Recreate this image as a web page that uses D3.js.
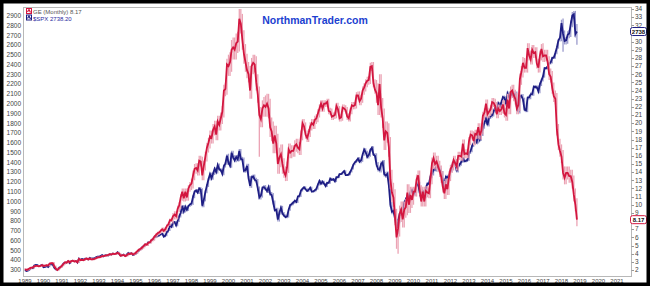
<!DOCTYPE html>
<html>
<head>
<meta charset="utf-8">
<script src="https://cdn.jsdelivr.net/npm/d3@7/dist/d3.min.js"></script>
<style>
  body { margin: 0; background: #fff; }
  text { font-family: "Liberation Sans", Arial, sans-serif; }
</style>
</head>
<body>
<div id="chart"></div>
<script>
// monthly closes, Jan 1989 .. Nov 2018
var spxClose = [
  297, 289, 295, 310, 321, 318, 346, 351, 349, 340, 346, 353,        // 1989
  329, 332, 340, 331, 361, 358, 356, 323, 306, 304, 322, 330,        // 1990
  344, 367, 375, 375, 390, 371, 388, 395, 388, 392, 375, 417,        // 1991
  409, 413, 404, 415, 415, 408, 424, 414, 418, 419, 431, 436,        // 1992
  439, 443, 452, 440, 450, 451, 448, 464, 459, 468, 462, 466,        // 1993
  482, 467, 446, 451, 457, 444, 458, 475, 463, 472, 454, 459,        // 1994
  470, 487, 501, 515, 533, 545, 562, 562, 584, 582, 605, 616,        // 1995
  636, 640, 646, 654, 669, 671, 640, 652, 687, 705, 757, 741,        // 1996
  786, 791, 757, 801, 848, 885, 954, 899, 947, 915, 955, 970,        // 1997
  980, 1049, 1102, 1112, 1091, 1134, 1121, 957, 1017, 1099, 1164, 1229,  // 1998
  1280, 1238, 1286, 1335, 1302, 1373, 1329, 1320, 1283, 1363, 1389, 1469, // 1999
  1394, 1366, 1499, 1452, 1421, 1455, 1431, 1518, 1437, 1429, 1315, 1320, // 2000
  1366, 1240, 1160, 1249, 1256, 1224, 1211, 1134, 1041, 1060, 1139, 1148, // 2001
  1130, 1107, 1147, 1077, 1067, 990, 912, 916, 815, 886, 936, 880,        // 2002
  856, 841, 848, 917, 964, 975, 990, 1008, 996, 1051, 1058, 1112,         // 2003
  1131, 1145, 1126, 1107, 1121, 1141, 1102, 1104, 1115, 1130, 1174, 1212, // 2004
  1181, 1204, 1181, 1157, 1192, 1191, 1234, 1220, 1229, 1207, 1249, 1248, // 2005
  1280, 1281, 1295, 1311, 1270, 1270, 1277, 1304, 1336, 1378, 1401, 1418, // 2006
  1438, 1407, 1421, 1482, 1531, 1503, 1455, 1474, 1527, 1549, 1481, 1468, // 2007
  1379, 1331, 1323, 1386, 1400, 1280, 1267, 1283, 1166, 969, 896, 903,    // 2008
  826, 735, 798, 873, 919, 919, 987, 1021, 1057, 1036, 1096, 1115,        // 2009
  1074, 1104, 1169, 1187, 1089, 1031, 1102, 1049, 1141, 1183, 1181, 1258, // 2010
  1286, 1327, 1326, 1364, 1345, 1321, 1292, 1219, 1131, 1253, 1247, 1258, // 2011
  1312, 1366, 1408, 1398, 1310, 1362, 1379, 1407, 1441, 1412, 1416, 1426, // 2012
  1498, 1515, 1569, 1598, 1631, 1606, 1686, 1633, 1682, 1757, 1806, 1848, // 2013
  1783, 1859, 1872, 1884, 1924, 1960, 1931, 2003, 1972, 2018, 2068, 2059, // 2014
  1995, 2105, 2068, 2086, 2107, 2063, 2104, 1972, 1920, 2079, 2080, 2044, // 2015
  1940, 1932, 2060, 2065, 2097, 2099, 2174, 2171, 2168, 2126, 2199, 2239, // 2016
  2279, 2364, 2363, 2384, 2412, 2423, 2470, 2472, 2519, 2575, 2648, 2674, // 2017
  2824, 2714, 2641, 2648, 2705, 2718, 2816, 2902, 2914, 2712, 2738.2      // 2018
]

var geClose = [
  2.1, 2.0, 2.1, 2.2, 2.3, 2.3, 2.45, 2.5, 2.5, 2.45, 2.5, 2.6,       // 1989
  2.5, 2.55, 2.6, 2.55, 2.8, 2.85, 2.85, 2.45, 2.15, 2.0, 2.2, 2.35,  // 1990
  2.55, 2.75, 2.95, 2.9, 3.1, 2.95, 3.1, 3.15, 3.05, 3.1, 2.95, 3.35, // 1991
  3.2, 3.25, 3.2, 3.35, 3.4, 3.3, 3.4, 3.3, 3.3, 3.35, 3.45, 3.55,    // 1992
  3.55, 3.6, 3.7, 3.7, 3.75, 3.8, 3.85, 3.95, 3.9, 4.0, 3.95, 4.0,    // 1993
  4.1, 4.0, 3.75, 3.8, 3.85, 3.7, 3.8, 4.0, 3.95, 4.05, 3.9, 4.0,     // 1994
  4.15, 4.35, 4.5, 4.6, 4.75, 4.95, 5.15, 5.1, 5.35, 5.4, 5.65, 5.8,  // 1995
  6.1, 6.3, 6.5, 6.6, 6.8, 7.0, 6.8, 7.0, 7.4, 7.6, 8.1, 8.1,         // 1996
  8.6, 8.8, 8.6, 9.5, 9.9, 10.9, 11.6, 10.8, 11.6, 10.9, 12.0, 12.4,  // 1997
  12.6, 13.6, 14.4, 14.5, 14.2, 15.4, 15.3, 13.6, 14.8, 15.9, 17.0, 17.6, // 1998
  18.4, 18.2, 19.2, 19.6, 18.6, 20.2, 19.8, 20.6, 21.4, 24.0, 24.2, 27.2, // 1999
  27.0, 27.5, 29.0, 29.3, 29.0, 29.8, 30.0, 32.8, 32.2, 30.2, 28.5, 27.5, // 2000
  26.5, 26.0, 24.0, 27.0, 27.4, 27.2, 25.0, 23.5, 21.0, 20.5, 21.8, 22.2, // 2001
  22.0, 22.4, 21.8, 19.5, 19.0, 17.5, 18.5, 17.5, 15.0, 15.8, 16.2, 15.0, // 2002
  14.0, 13.6, 14.6, 16.8, 16.4, 16.6, 16.6, 17.2, 17.4, 17.0, 16.8, 18.4, // 2003
  20.0, 19.6, 18.6, 18.2, 18.8, 19.6, 20.0, 19.8, 20.4, 20.6, 21.2, 21.8, // 2004
  22.4, 21.8, 22.4, 22.4, 22.6, 21.5, 21.4, 20.8, 20.9, 21.0, 22.1, 21.7, // 2005
  20.6, 20.7, 21.9, 21.8, 21.6, 20.8, 20.6, 21.5, 22.2, 22.1, 22.2, 23.4, // 2006
  23.4, 22.7, 23.0, 24.0, 24.4, 24.9, 25.2, 25.3, 26.9, 27.0, 24.9, 24.1, // 2007
  23.7, 22.2, 24.8, 21.9, 20.6, 17.9, 19.0, 18.8, 17.1, 13.1, 11.5, 10.9, // 2008
  8.5, 6.0, 7.1, 8.9, 9.4, 8.2, 9.4, 9.7, 11.5, 10.0, 11.2, 10.6,         // 2009
  11.6, 11.6, 13.1, 13.6, 11.8, 10.4, 11.6, 10.4, 11.7, 11.5, 11.4, 13.2, // 2010
  15.1, 15.7, 15.0, 15.3, 14.7, 14.1, 13.4, 12.2, 11.4, 12.5, 11.9, 13.4, // 2011
  14.4, 14.7, 15.5, 15.1, 14.7, 16.0, 16.0, 15.9, 17.5, 16.2, 16.3, 16.2, // 2012
  17.8, 18.6, 18.5, 17.8, 18.7, 18.6, 19.5, 18.5, 19.1, 20.9, 21.3, 22.4, // 2013
  21.1, 21.4, 21.7, 22.6, 22.5, 22.1, 21.1, 21.8, 21.5, 21.7, 22.3, 21.2, // 2014
  21.0, 22.9, 21.8, 23.8, 24.0, 23.4, 23.0, 21.8, 22.2, 25.4, 26.3, 27.4, // 2015
  26.8, 26.8, 29.2, 28.3, 27.8, 29.0, 28.6, 28.7, 27.3, 26.8, 28.3, 29.1, // 2016
  28.2, 28.3, 28.3, 27.5, 26.0, 25.7, 24.3, 23.3, 23.0, 19.2, 17.4, 16.6, // 2017
  15.9, 13.9, 13.3, 13.9, 13.9, 13.5, 13.5, 12.8, 11.2, 10.0, 8.17        // 2018
]

// typical intra-month reach beyond the closes, one per year 1989..2018
var spxPad = [3, 3, 3, 3, 3, 4, 4, 6, 10, 15, 15, 20, 20, 20, 12, 10, 8, 8, 15, 25,
              20, 15, 20, 12, 12, 15, 20, 18, 12, 35]
var gePad = [0.1, 0.1, 0.1, 0.1, 0.1, 0.1, 0.15, 0.2, 0.4, 0.6, 0.7, 1.2, 1.0, 1.2, 0.7, 0.5, 0.4, 0.4, 0.5, 1.2,
             1.0, 0.6, 0.7, 0.5, 0.5, 0.5, 0.7, 0.6, 0.7, 0.8]

// notable wicks: [year fraction, low, high]
var geWicks = [[2000.6, 31.5, 33.9], [2009.08, 4.6, 8.5], [2009.17, 4.0, 7.5], [2001.7, 15.9, 23.0], [2018.83, 7.4, 10.2]]
var spxWicks = [[2009.17, 666, 800], [2018.08, 2532, 2872], [2018.83, 2603, 2815]]

var leftTicks = d3.range(300, 3000, 100)
// 31 and 8 sit under the last-value boxes
var rightTicks = [34, 33, 32, 30, 29, 28, 27, 26, 25, 24, 23, 22, 21, 20, 19, 18, 17, 16, 15, 14, 13, 12, 11, 10, 9, 7, 6, 5, 4, 3, 2]
var yearTicks = d3.range(1989, 2022)

var W = 650, H = 286
var svg = d3.select('#chart').append('svg').attr('width', W).attr('height', H)

var plot = {left: 23, right: 631, top: 7, bottom: 276}

var x = d3.scaleLinear().domain([1989, 2021]).range([25, 617])
var yL = d3.scaleLinear().domain([300, 2900]).range([270, 15.7])
var yR = d3.scaleLinear().domain([2, 34]).range([270, 9])

svg.append('rect').attr('width', W).attr('height', H).attr('fill', '#fff')

// plot frame
svg.append('rect')
  .attr('x', plot.left + 0.5).attr('y', plot.top + 0.5)
  .attr('width', plot.right - plot.left).attr('height', plot.bottom - plot.top)
  .attr('fill', 'none').attr('stroke', '#b8b8b8')

// left axis labels
svg.append('g').selectAll('text').data(leftTicks).enter().append('text')
  .attr('x', 21).attr('y', function(d){ return yL(d) })
  .attr('dy', '0.35em').attr('text-anchor', 'end')
  .attr('font-size', 6.5).attr('fill', '#444')
  .text(function(d){ return d })

// right axis ticks + labels
svg.append('g').selectAll('line').data(d3.range(2, 35)).enter().append('line')
  .attr('x1', plot.right + 0.5).attr('x2', plot.right + 3)
  .attr('y1', function(d){ return Math.round(yR(d)) + 0.5 })
  .attr('y2', function(d){ return Math.round(yR(d)) + 0.5 })
  .attr('stroke', '#999')
svg.append('g').selectAll('text').data(rightTicks).enter().append('text')
  .attr('x', 635).attr('y', function(d){ return yR(d) })
  .attr('dy', '0.35em').attr('text-anchor', 'start')
  .attr('font-size', 6.5).attr('fill', '#444')
  .text(function(d){ return d })

// bottom axis labels
svg.append('g').selectAll('text').data(yearTicks).enter().append('text')
  .attr('x', function(d){ return x(d) }).attr('y', 282.5)
  .attr('text-anchor', 'middle')
  .attr('font-size', 6).attr('fill', '#444')
  .text(function(d){ return d })

function tOf(i){ return 1989 + i / 12 }

function drawSeries(closes, pads, wicks, y, dark, light){
  var g = svg.append('g')
  var bars = closes.map(function(c, i){
    var p = i > 0 ? closes[i - 1] : c
    var pad = pads[Math.floor(i / 12)]
    return {t: tOf(i), lo: Math.min(p, c) - pad, hi: Math.max(p, c) + pad}
  })
  wicks.forEach(function(w){
    var i = Math.round((w[0] - 1989) * 12)
    if (bars[i]){
      bars[i].lo = Math.min(bars[i].lo, w[1])
      bars[i].hi = Math.max(bars[i].hi, w[2])
    }
  })
  g.selectAll('line').data(bars).enter().append('line')
    .attr('x1', function(d){ return x(d.t) }).attr('x2', function(d){ return x(d.t) })
    .attr('y1', function(d){ return y(d.lo) }).attr('y2', function(d){ return y(d.hi) })
    .attr('stroke', light).attr('stroke-width', 1.3)
  var line = d3.line().x(function(d, i){ return x(tOf(i)) }).y(function(d){ return y(d) })
  g.append('path').attr('d', line(closes))
    .attr('fill', 'none').attr('stroke', dark).attr('stroke-width', 1.8)
    .attr('stroke-linejoin', 'miter')
}

drawSeries(spxClose, spxPad, spxWicks, yL, '#1e1e84', '#9a9acc')
drawSeries(geClose, gePad, geWicks, yR, '#d3163f', '#eba3b4')

// title
svg.append('text').attr('x', 315).attr('y', 24)
  .attr('text-anchor', 'middle').attr('font-size', 10.5).attr('font-weight', 'bold')
  .attr('fill', '#1c3fd0').text('NorthmanTrader.com')

// legend
function legendIcon(yy, col){
  var g = svg.append('g')
  g.append('rect').attr('x', 26.5).attr('y', yy - 5.5).attr('width', 5).attr('height', 5)
    .attr('fill', '#fff').attr('stroke', col).attr('stroke-width', 1)
  g.append('path').attr('d', 'M27.5,' + (yy - 2) + 'L29,' + (yy - 4.5) + 'L30.5,' + (yy - 1.5))
    .attr('fill', 'none').attr('stroke', col).attr('stroke-width', 1.2)
}
legendIcon(14, '#d3163f')
legendIcon(20.5, '#1e1e84')
svg.append('text').attr('x', 33).attr('y', 14).attr('font-size', 6).attr('fill', '#555')
  .text('GE (Monthly) 8.17')
svg.append('text').attr('x', 33).attr('y', 20.5).attr('font-size', 6).attr('fill', '#2a2aa0')
  .text('$SPX 2738.20')

// last value boxes on right edge
function valueBox(yy, label, col){
  var g = svg.append('g')
  g.append('rect').attr('x', 630.5).attr('y', yy - 4).attr('width', 16).attr('height', 8)
    .attr('rx', 2).attr('fill', '#fff').attr('stroke', col).attr('stroke-width', 1)
  g.append('text').attr('x', 638.5).attr('y', yy).attr('dy', '0.35em')
    .attr('text-anchor', 'middle').attr('font-size', 6).attr('font-weight', 'bold')
    .attr('fill', '#111').text(label)
}
valueBox(yL(2738.2), '2738', '#1e1e84')
valueBox(yR(8.17), '8.17', '#d3163f')

// black outer frame
svg.append('rect').attr('x', 1.75).attr('y', 1.75).attr('width', W - 3.5).attr('height', H - 3.5)
  .attr('fill', 'none').attr('stroke', '#000').attr('stroke-width', 3.5)
</script>
</body>
</html>
